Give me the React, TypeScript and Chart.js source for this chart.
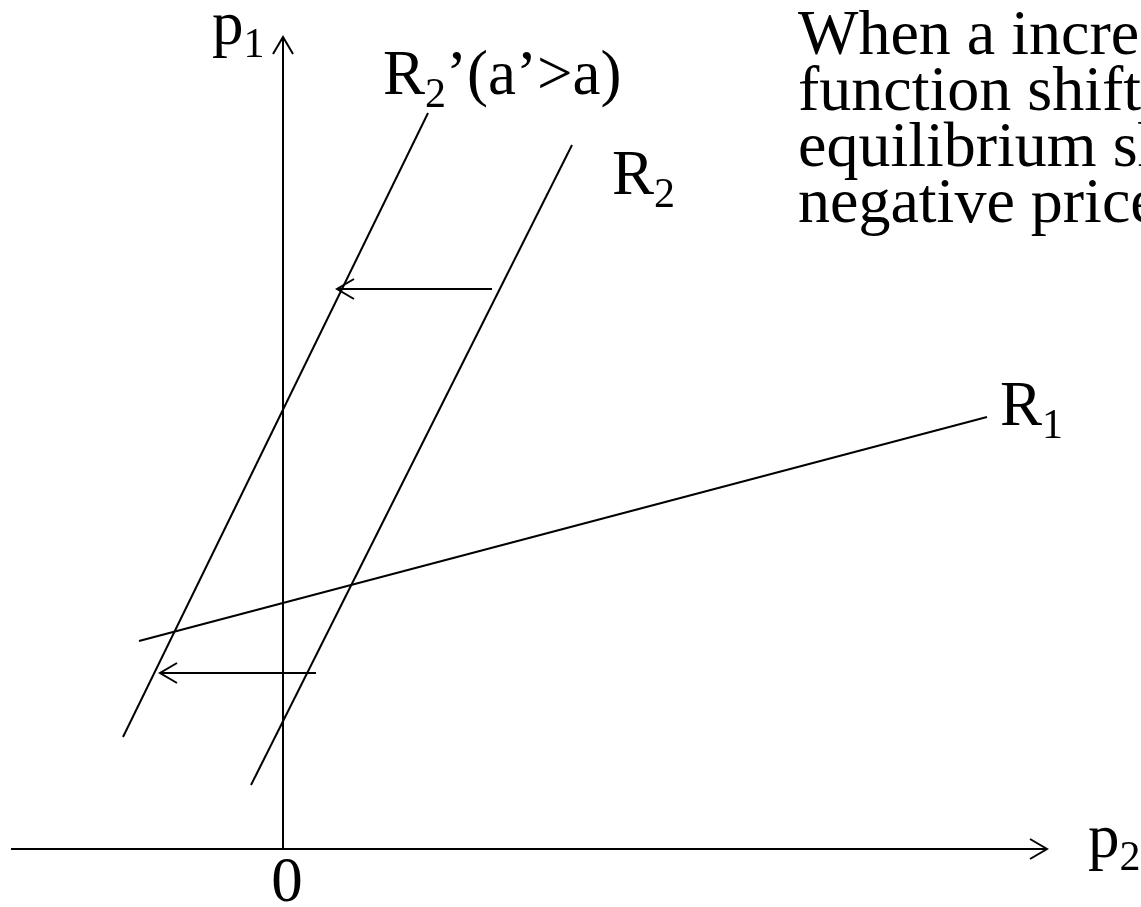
import React, { useEffect, useRef } from "react";
import { Chart, registerables } from "chart.js";

Chart.register(...registerables);

// Diagram coordinates: origin at the axes' crossing, one unit = one pixel
const X_MIN = -283;
const X_MAX = 858;
const Y_MIN = -58;
const Y_MAX = 849;

const axisX: [number, number][] = [[-272, 0], [764, 0]];
const axisY: [number, number][] = [[0, 0], [0, 812]];
const lineR2prime: [number, number][] = [[-160, 112], [145, 736]];
const lineR2: [number, number][] = [[-32, 64], [289, 704]];
const lineR1: [number, number][] = [[-144, 208], [704, 432]];
const shiftUpper: [number, number][] = [[209, 560], [54, 560]];
const shiftLower: [number, number][] = [[33, 176], [-123, 176]];

const LABEL_SIZE = 63;
const SUB_SIZE = 42;
const SUB_DROP = 13;
const PARA_SIZE = 64;

// [main, subscript, rest, x, y(baseline)]
const labels: [string, string, string, number, number][] = [
  ["p", "1", "", -71, 805],
  ["R", "2", "’(a’>a)", 100, 755],
  ["R", "2", "", 329, 655],
  ["R", "1", "", 717, 424],
  ["p", "2", "", 805, -8],
];
const zeroLabel: [string, number, number] = ["0", 4, -52];

const paragraph: string[] = [
  "When a increases, firm 2’s reaction",
  "function shifts to the left and the",
  "equilibrium shifts in the direction of",
  "negative prices.",
];
const paraX = 515;
const paraTop = 795;
const paraStep = 56;

const HEAD_LEN = 17;
const HEAD_HALF = 10;

function head(from: [number, number], to: [number, number]) {
  const dx = to[0] - from[0];
  const dy = to[1] - from[1];
  const len = Math.hypot(dx, dy);
  const ux = dx / len;
  const uy = dy / len;
  const bx = to[0] - ux * HEAD_LEN;
  const by = to[1] - uy * HEAD_LEN;
  return [
    { x: bx - uy * HEAD_HALF, y: by + ux * HEAD_HALF },
    { x: to[0], y: to[1] },
    { x: bx + uy * HEAD_HALF, y: by - ux * HEAD_HALF },
  ];
}

const seg = (p: [number, number][]) => p.map(([x, y]) => ({ x, y }));

const FONT = '"Liberation Serif", "Times New Roman", serif';

const textPlugin = {
  id: "diagramText",
  afterDatasetsDraw(chart: any) {
    const { ctx, scales } = chart;
    const sx = scales.x;
    const sy = scales.y;
    ctx.save();
    ctx.fillStyle = "#000";
    ctx.textBaseline = "alphabetic";
    ctx.textAlign = "left";
    for (const [m, s, r, x, y] of labels) {
      let px = sx.getPixelForValue(x);
      const py = sy.getPixelForValue(y);
      ctx.font = `${LABEL_SIZE}px ${FONT}`;
      ctx.fillText(m, px, py);
      px += ctx.measureText(m).width;
      ctx.font = `${SUB_SIZE}px ${FONT}`;
      ctx.fillText(s, px, py + SUB_DROP);
      px += ctx.measureText(s).width;
      if (r) {
        ctx.font = `${LABEL_SIZE}px ${FONT}`;
        ctx.fillText(r, px, py);
      }
    }
    ctx.font = `${LABEL_SIZE}px ${FONT}`;
    ctx.textAlign = "center";
    ctx.fillText(zeroLabel[0], sx.getPixelForValue(zeroLabel[1]), sy.getPixelForValue(zeroLabel[2]));
    ctx.textAlign = "left";
    ctx.font = `${PARA_SIZE}px ${FONT}`;
    paragraph.forEach((line, i) => {
      ctx.fillText(line, sx.getPixelForValue(paraX), sy.getPixelForValue(paraTop - i * paraStep));
    });
    ctx.restore();
  },
};

export default function App() {
  const ref = useRef<HTMLCanvasElement | null>(null);
  useEffect(() => {
    if (!ref.current) return;
    const mk = (data: any[]) => ({
      data,
      showLine: true,
      borderColor: "#000",
      borderWidth: 2,
      pointRadius: 0,
      fill: false,
      tension: 0,
    });
    const chart = new Chart(ref.current, {
      type: "scatter",
      data: {
        datasets: [
          mk(seg(axisX)),
          mk(head(axisX[0], axisX[1])),
          mk(seg(axisY)),
          mk(head(axisY[0], axisY[1])),
          mk(seg(lineR2prime)),
          mk(seg(lineR2)),
          mk(seg(lineR1)),
          mk(seg(shiftUpper)),
          mk(head(shiftUpper[0], shiftUpper[1])),
          mk(seg(shiftLower)),
          mk(head(shiftLower[0], shiftLower[1])),
        ],
      },
      options: {
        animation: false,
        responsive: false,
        maintainAspectRatio: false,
        layout: { padding: 0 },
        plugins: { legend: { display: false }, tooltip: { enabled: false } },
        scales: {
          x: { type: "linear", min: X_MIN, max: X_MAX, display: false },
          y: { type: "linear", min: Y_MIN, max: Y_MAX, display: false },
        },
      },
      plugins: [textPlugin],
    });
    return () => chart.destroy();
  }, []);
  return (
    <div style={{ position: "fixed", left: 0, top: 0, width: 1141, height: 907, background: "#fff" }}>
      <canvas ref={ref} width={1141} height={907} style={{ width: 1141, height: 907, display: "block" }} />
    </div>
  );
}
